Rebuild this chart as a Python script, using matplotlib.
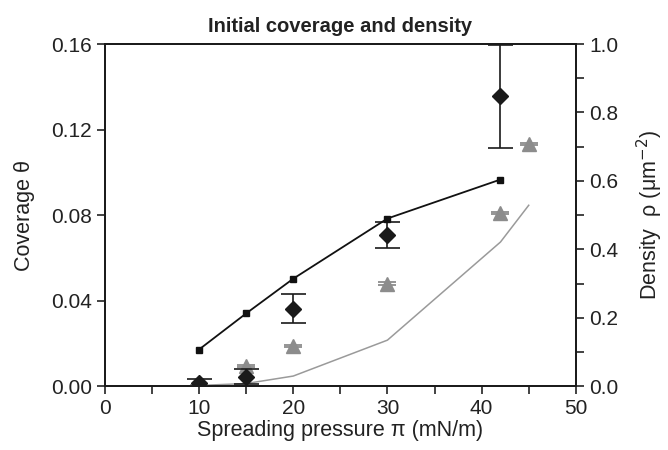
import matplotlib
matplotlib.use("Agg")
import matplotlib.pyplot as plt
from matplotlib.ticker import MultipleLocator

plt.rcParams['font.family'] = ['Liberation Sans', 'DejaVu Sans']
plt.rcParams['text.color'] = '#222222'
plt.rcParams['axes.labelcolor'] = '#222222'
plt.rcParams['xtick.color'] = '#222222'
plt.rcParams['ytick.color'] = '#222222'

# spreading pressure (mN/m)
pressure = [10, 15, 20, 30, 42]
pressure_tri = [10, 15, 20, 30, 42, 45]

# coverage, diamonds with error bars
coverage = [0.0015, 0.0043, 0.0363, 0.0706, 0.1355]
coverage_err = [0.002, 0.0035, 0.0069, 0.0061, 0.0243]

# coverage, grey triangles
coverage_tri = [0.0, 0.0095, 0.0187, 0.048, 0.081, 0.1134]
coverage_tri_err = [0.0005, 0.0005, 0.0005, 0.0005, 0.0005, 0.0005]

# grey curve (coverage)
curve = [0.0003, 0.0012, 0.0047, 0.0215, 0.0674, 0.0846]

# density (right axis), black squares
density = [0.107, 0.2125, 0.314, 0.49, 0.604]

fig = plt.figure(figsize=(6.68, 4.5), dpi=100)
ax = fig.add_axes([0.157, 0.142, 0.705, 0.76])
ax2 = ax.twinx()

ax.plot(pressure_tri, curve, color='#9a9a9a', lw=1.1, zorder=2)
ax.errorbar(pressure_tri, coverage_tri, yerr=coverage_tri_err, fmt='^', ms=10,
            color='#8c8c8c', ecolor='#8c8c8c', elinewidth=1.2, capsize=6.5, capthick=1.3,
            zorder=3)
ax.errorbar(pressure, coverage, yerr=coverage_err, fmt='D', ms=8,
            color='#1a1a1a', ecolor='#1a1a1a', elinewidth=1.2, capsize=9, capthick=1.2,
            zorder=4)
ax2.plot(pressure, density, marker='s', ms=5, color='#111111', lw=1.3)

ax.set_xlim(0, 50)
ax.set_ylim(0, 0.16)
ax2.set_ylim(0, 1.0)

ax.xaxis.set_major_locator(MultipleLocator(10))
ax.xaxis.set_minor_locator(MultipleLocator(5))
ax.yaxis.set_major_locator(MultipleLocator(0.04))
ax.yaxis.set_major_formatter(plt.FormatStrFormatter('%.2f'))
ax2.yaxis.set_major_locator(MultipleLocator(0.2))
ax2.yaxis.set_minor_locator(MultipleLocator(0.1))
ax2.yaxis.set_major_formatter(plt.FormatStrFormatter('%.1f'))

for a in (ax, ax2):
    a.tick_params(which='both', direction='out', labelsize=15, width=1.2)
    a.tick_params(which='major', length=6)
    a.tick_params(which='minor', length=6)
    for s in a.spines.values():
        s.set_linewidth(1.3)
        s.set_color('#1a1a1a')

ax.set_xlabel('Spreading pressure π (mN/m)', fontsize=15.5, labelpad=1)
ax.set_ylabel('Coverage θ', fontsize=15.5, labelpad=11)
ax2.set_ylabel('Density  ρ (μm$^{-2}$)', fontsize=15.5, labelpad=12)
ax.set_title('Initial coverage and density', fontsize=14.5, fontweight='bold', pad=9)

fig.savefig('out.png', dpi=100)
